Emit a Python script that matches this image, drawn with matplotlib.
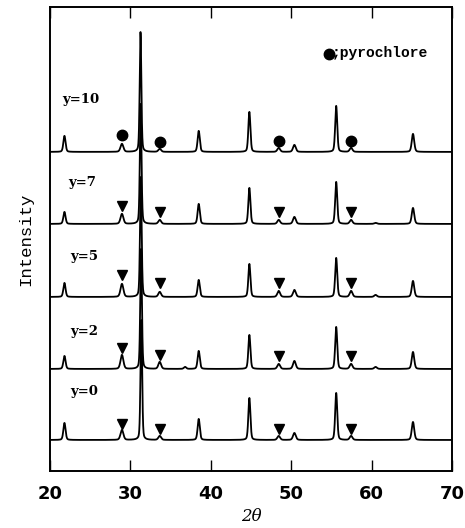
import numpy as np
import matplotlib
matplotlib.use("Agg")
import matplotlib.pyplot as plt

# peak positions (2theta) and widths, shared by all samples
pos = [21.8, 28.95, 31.3, 33.65, 36.8, 38.5, 44.8, 48.45, 50.4, 55.6, 57.45, 60.5, 65.15]
fwhm = [0.32, 0.42, 0.24, 0.4, 0.35, 0.32, 0.3, 0.4, 0.4, 0.3, 0.4, 0.4, 0.36]

samples = ["y=0", "y=2", "y=5", "y=7", "y=10"]
base = [31, 102, 174, 247, 319]
# peak heights per sample (same order as pos)
h_y0 = [17, 10, 120, 4, 0, 21, 42, 4, 7, 47, 4, 0, 18]
h_y2 = [13, 14, 120, 7, 2, 18, 34, 5, 8, 42, 5, 2, 17]
h_y5 = [14, 13, 120, 5, 0, 17, 33, 6, 7, 39, 6, 2, 16]
h_y7 = [12, 10, 120, 4, 0, 20, 36, 4, 7, 42, 4, 1, 16]
h_y10 = [16, 8, 120, 3, 0, 21, 40, 4, 7, 46, 4, 0, 18]
heights = [h_y0, h_y2, h_y5, h_y7, h_y10]
main_shift = [0.06, 0.03, 0.0, -0.02, -0.04]

# phase markers: position and height above each baseline
mark_x = [29.0, 33.7, 48.5, 57.5]
mark_y0 = [16, 11, 11, 11]
mark_y2 = [21, 14, 13, 13]
mark_y5 = [22, 14, 14, 14]
mark_y7 = [18, 12, 12, 12]
mark_y10 = [17, 10, 11, 11]
marks = [mark_y0, mark_y2, mark_y5, mark_y7, mark_y10]
label_xy = [(24.3, 48), (24.3, 37), (24.3, 40), (24.0, 41), (23.8, 52)]

x = np.linspace(20, 70, 4000)

def profile(h, shift):
    y = np.zeros_like(x)
    for p, w, a in zip(pos, fwhm, h):
        if p == 31.3:
            p = p + shift
        g = np.exp(-4 * np.log(2) * ((x - p) / w) ** 2)
        l = 1 / (1 + 4 * ((x - p) / w) ** 2)
        y += a * (0.7 * g + 0.3 * l)
    return y

fig = plt.figure(figsize=(4.65, 5.28), dpi=100)
ax = fig.add_axes([0.1075, 0.108, 0.8645, 0.879])

for i in range(len(samples)):
    ax.plot(x, base[i] + profile(heights[i], main_shift[i]), color="black", lw=1.3)
    mk = "o" if samples[i] == "y=10" else "v"
    ms = 7.5 if mk == "o" else 7
    ax.plot(mark_x, [base[i] + d for d in marks[i]], marker=mk, color="black",
            ms=ms, ls="none")
    lx, ly = label_xy[i]
    ax.text(lx, base[i] + ly, samples[i], ha="center", va="center",
            family="DejaVu Serif", fontweight="bold", fontsize=9.5)

ax.plot(54.7, 417, marker="o", color="black", ms=7.5, ls="none")
ax.text(55.1, 418, ";pyrochlore", ha="left", va="center",
        family="Liberation Mono", fontweight="bold", fontsize=10.5)

ax.set_xlim(20, 70)
ax.set_ylim(0, 464)
ax.set_yticks([])
ax.set_xticks([20, 30, 40, 50, 60, 70])
ax.tick_params(axis="x", direction="in", length=8, width=1, top=True, pad=10)
for lab in ax.get_xticklabels():
    lab.set_fontweight("bold")
    lab.set_fontsize(13)
    lab.set_family("DejaVu Sans")
for s in ax.spines.values():
    s.set_linewidth(1.4)

ax.set_xlabel("2θ", family="DejaVu Serif", style="italic", fontsize=12, labelpad=4)
ax.set_ylabel("Intensity", family="Liberation Mono", fontsize=12.5, labelpad=12)

fig.savefig("out.png", dpi=100)
